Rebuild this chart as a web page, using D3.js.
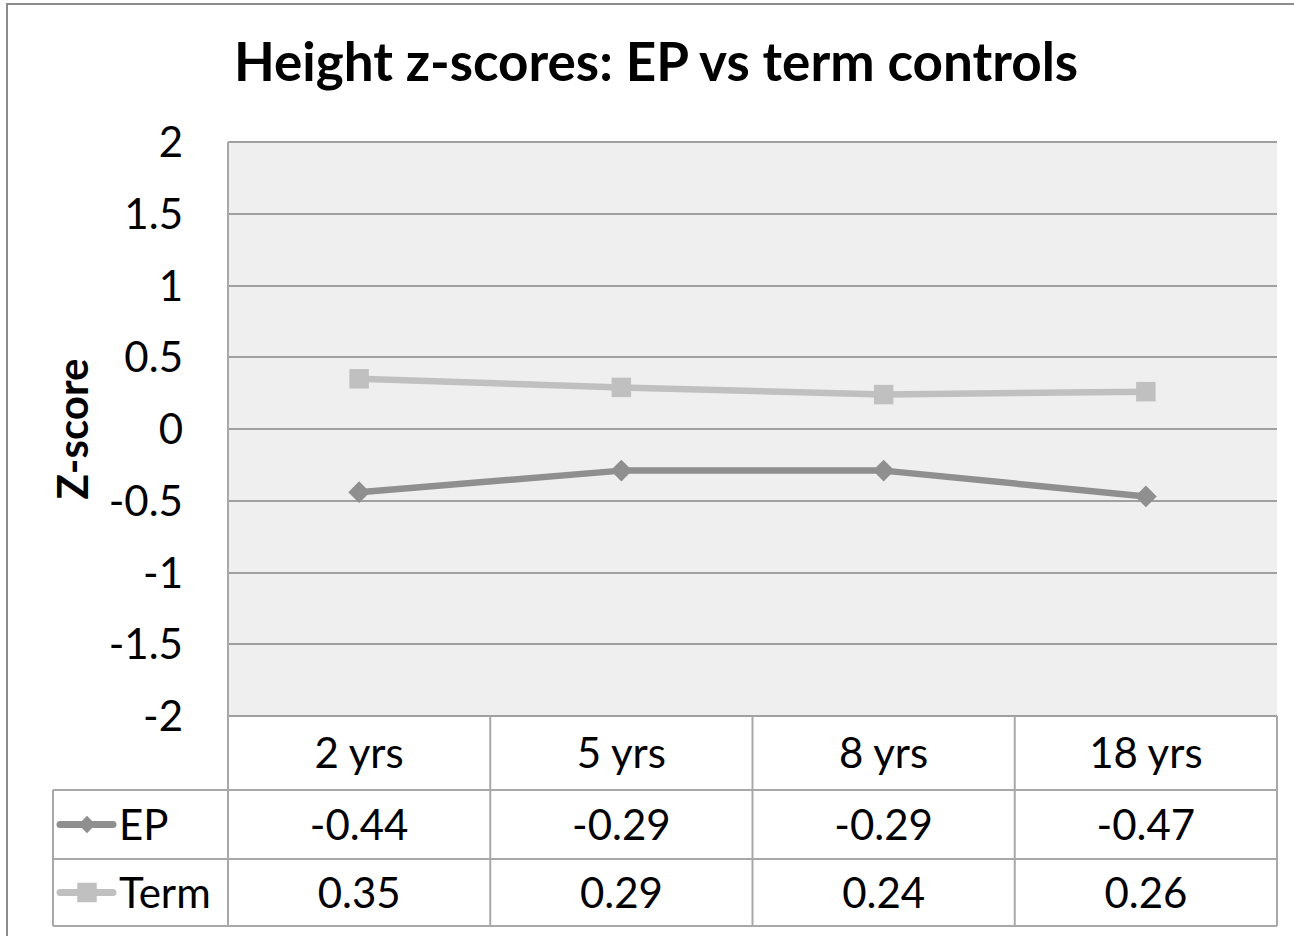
<!DOCTYPE html>
<html>
<head>
<meta charset="utf-8">
<script src="https://cdn.jsdelivr.net/npm/d3@7"></script>
<style>
  body { margin: 0; background: #fff; overflow: hidden; }
  svg { display: block; font-family: Lato, "Open Sans", sans-serif; }
</style>
</head>
<body>
<svg id="chart"></svg>
<script>
// Data
var categories = ["2 yrs", "5 yrs", "8 yrs", "18 yrs"];
var seriesNames = ["EP", "Term"];
var epValues = [-0.44, -0.29, -0.29, -0.47];
var termValues = [0.35, 0.29, 0.24, 0.26];
var yTicks = [-2, -1.5, -1, -0.5, 0, 0.5, 1, 1.5, 2];

var width = 1294;
var height = 936;

var series = [
    { name: seriesNames[0], values: epValues, color: "#8f8f8f", marker: "diamond" },
    { name: seriesNames[1], values: termValues, color: "#c0c0c0", marker: "square" }
];

// plot area
var plot = { left: 228, top: 142, right: 1277, bottom: 716 };
var rowH = [74, 69, 67];   // header row, EP row, Term row
var legendLeft = 53;
var gridColor = "#a0a0a0";
var tableColor = "#a8a8a8";

var svg = d3.select('#chart')
    .attr('width', width)
    .attr('height', height);

// outer chart frame (only left/top edges are inside the picture)
svg.append('rect')
    .attr('x', 7).attr('y', 4)
    .attr('width', width + 20).attr('height', height + 20)
    .attr('fill', '#fff')
    .attr('stroke', '#8c8c8c')
    .attr('stroke-width', 2);

var x = d3.scaleBand()
    .domain(categories)
    .range([plot.left, plot.right])
    .padding(0);

var y = d3.scaleLinear()
    .domain([-2, 2])
    .range([plot.bottom, plot.top]);

// plot background
svg.append('rect')
    .attr('x', plot.left).attr('y', plot.top)
    .attr('width', plot.right - plot.left)
    .attr('height', plot.bottom - plot.top)
    .attr('fill', '#efefef');

// gridlines
svg.append('g').selectAll('line')
    .data(yTicks)
    .enter().append('line')
    .attr('x1', plot.left).attr('x2', plot.right)
    .attr('y1', function (d) { return Math.round(y(d)); })
    .attr('y2', function (d) { return Math.round(y(d)); })
    .attr('stroke', gridColor)
    .attr('stroke-width', 2);

// tick labels
svg.append('g').selectAll('text')
    .data(yTicks)
    .enter().append('text')
    .attr('x', 183)
    .attr('y', function (d) { return y(d) + 15; })
    .attr('text-anchor', 'end')
    .attr('font-size', 42)
    .attr('fill', '#000')
    .text(function (d) { return d; });

// y axis title
svg.append('text')
    .attr('transform', 'translate(88,' + y(0) + ')rotate(-90)')
    .attr('text-anchor', 'middle')
    .attr('font-size', 42)
    .attr('font-weight', 'bold')
    .text('Z-score');

// chart title
svg.append('text')
    .attr('x', 656)
    .attr('y', 81)
    .attr('text-anchor', 'middle')
    .attr('font-size', 53)
    .attr('font-weight', 'bold')
    .text('Height z-scores: EP vs term controls');

// lines and markers
var line = d3.line()
    .x(function (d, i) { return x(categories[i]) + x.bandwidth() / 2; })
    .y(function (d) { return y(d); });

var symbolType = { diamond: d3.symbolDiamond2, square: d3.symbolSquare };
var plotSize = { diamond: 300, square: 380 };
var keySize = { diamond: 190, square: 380 };

series.forEach(function (s) {
    svg.append('path')
        .datum(s.values)
        .attr('d', line)
        .attr('fill', 'none')
        .attr('stroke', s.color)
        .attr('stroke-width', 6.5)
        .attr('stroke-linejoin', 'round');

    svg.append('g').selectAll('path')
        .data(s.values)
        .enter().append('path')
        .attr('d', d3.symbol().type(symbolType[s.marker]).size(plotSize[s.marker]))
        .attr('transform', function (d, i) {
            return 'translate(' + (x(categories[i]) + x.bandwidth() / 2) + ',' + y(d) + ')';
        })
        .attr('fill', s.color);
});

// data table
var rowTops = [plot.bottom, plot.bottom + rowH[0], plot.bottom + rowH[0] + rowH[1]];
var tableBottom = rowTops[2] + rowH[2];
var tbl = svg.append('g');

// horizontal rules
tbl.append('line')
    .attr('x1', plot.left).attr('x2', plot.right)
    .attr('y1', plot.bottom).attr('y2', plot.bottom)
    .attr('stroke', gridColor).attr('stroke-width', 2);
[rowTops[1], rowTops[2], tableBottom].forEach(function (yy) {
    tbl.append('line')
        .attr('x1', legendLeft).attr('x2', plot.right)
        .attr('y1', yy).attr('y2', yy)
        .attr('stroke', tableColor).attr('stroke-width', 2);
});

// vertical rules
tbl.append('line')
    .attr('x1', plot.left).attr('x2', plot.left)
    .attr('y1', plot.top).attr('y2', tableBottom)
    .attr('stroke', tableColor).attr('stroke-width', 2);
tbl.append('line')
    .attr('x1', legendLeft).attr('x2', legendLeft)
    .attr('y1', rowTops[1]).attr('y2', tableBottom)
    .attr('stroke', tableColor).attr('stroke-width', 2);
tbl.selectAll('line.col')
    .data(categories.slice(1).concat([null]))
    .enter().append('line')
    .attr('class', 'col')
    .attr('x1', function (d) { return d ? x(d) : plot.right; })
    .attr('x2', function (d) { return d ? x(d) : plot.right; })
    .attr('y1', plot.bottom).attr('y2', tableBottom)
    .attr('stroke', tableColor).attr('stroke-width', 2);

// header row (categories)
tbl.selectAll('text.cat')
    .data(categories)
    .enter().append('text')
    .attr('class', 'cat')
    .attr('x', function (d) { return x(d) + x.bandwidth() / 2; })
    .attr('y', rowTops[0] + rowH[0] / 2 + 15)
    .attr('text-anchor', 'middle')
    .attr('font-size', 42)
    .text(function (d) { return d; });

// series rows
series.forEach(function (s, si) {
    var cy = rowTops[si + 1] + rowH[si + 1] / 2;

    // legend key
    tbl.append('line')
        .attr('x1', 60).attr('x2', 113)
        .attr('y1', cy).attr('y2', cy)
        .attr('stroke', s.color).attr('stroke-width', 7)
        .attr('stroke-linecap', 'round');
    tbl.append('path')
        .attr('d', d3.symbol().type(symbolType[s.marker]).size(keySize[s.marker]))
        .attr('transform', 'translate(87,' + cy + ')')
        .attr('fill', s.color);

    tbl.append('text')
        .attr('x', 119)
        .attr('y', cy + 15)
        .attr('font-size', 42)
        .text(s.name);

    tbl.selectAll('text.v' + si)
        .data(s.values)
        .enter().append('text')
        .attr('class', 'v' + si)
        .attr('x', function (d, i) { return x(categories[i]) + x.bandwidth() / 2; })
        .attr('y', cy + 15)
        .attr('text-anchor', 'middle')
        .attr('font-size', 42)
        .text(function (d) { return d.toFixed(2); });
});
</script>
</body>
</html>
